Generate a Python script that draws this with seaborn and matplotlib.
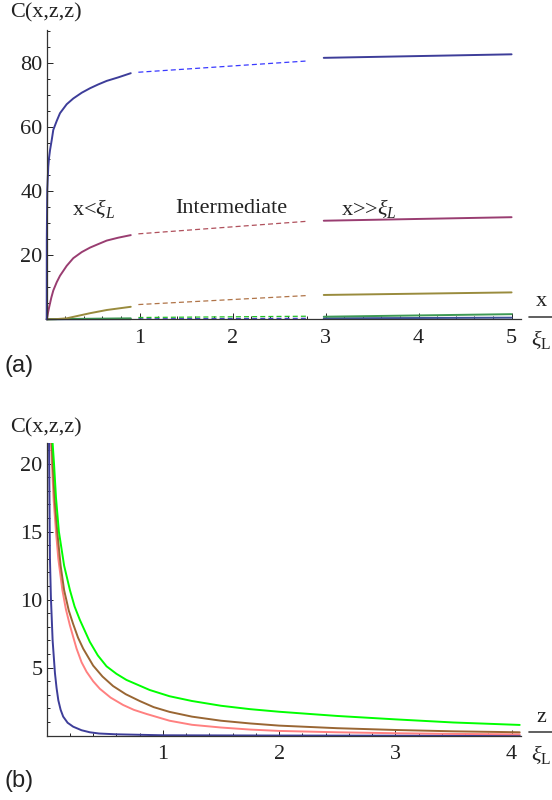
import numpy as np
import pandas as pd
import seaborn as sns
import matplotlib.pyplot as plt
from matplotlib.lines import Line2D
from matplotlib.ticker import MultipleLocator

# ---- panel (a): C(x,z,z) against x/xi_L in three regimes ----
# x < xi_L (solid)
xs_blue = [0, 0.001, 0.006, 0.017, 0.025, 0.036, 0.054, 0.071, 0.108, 0.143, 0.215, 0.286,
           0.377, 0.466, 0.555, 0.646, 0.77, 0.904]
cs_blue = [0, 25, 40.4, 47.7, 50.4, 52.9, 56.0, 59.2, 62.0, 64.4, 67.2, 69.0,
           70.8, 72.2, 73.4, 74.5, 75.6, 76.9]
xs_mag = [0, 0.006, 0.015, 0.028, 0.05, 0.071, 0.108, 0.143, 0.215, 0.286, 0.377, 0.466,
          0.555, 0.646, 0.77, 0.904]
cs_mag = [0, 0.6, 2.2, 4.0, 6.8, 9.0, 11.6, 13.6, 16.7, 19.1, 21.0, 22.4,
          23.5, 24.6, 25.5, 26.3]
xs_olive = [0, 0.1, 0.215, 0.466, 0.646, 0.904]
cs_olive = [0, 0.05, 0.3, 1.9, 2.9, 3.9]
xs_green = [0, 0.3, 0.904]
cs_green = [0, 0.12, 0.3]
xs_low = [0, 0.904]
cs_low = [0, 0.05]

# intermediate (dashed)
x_mid = [0.986, 2.79]
cm_blue = [77.2, 80.7]
cm_mag = [26.7, 30.6]
cm_olive = [4.6, 7.4]
cm_green = [0.55, 0.95]
cm_low = [0.15, 0.3]

# x >> xi_L (solid)
x_large = [2.98, 5.0]
cl_blue = [81.7, 82.8]
cl_mag = [30.8, 31.9]
cl_olive = [7.6, 8.4]
cl_green = [0.8, 1.6]
cl_low = [0.3, 0.5]

# ---- panel (b): C(x,z,z) against z/xi_L ----
zb_blue = [0.012, 0.02, 0.028, 0.036, 0.051, 0.071, 0.085, 0.1, 0.12, 0.142, 0.18, 0.228,
           0.3, 0.371, 0.45, 0.6, 1.0, 2.0, 3.0, 4.07]
cb_blue = [30, 21.5, 13.0, 10.2, 7.0, 4.6, 3.5, 2.6, 1.9, 1.4, 0.95, 0.66,
           0.4, 0.25, 0.16, 0.1, 0.03, 0.01, 0.0, 0.0]
zb_pink = [0.03, 0.037, 0.045, 0.06, 0.08, 0.1, 0.135, 0.165, 0.2, 0.257, 0.3, 0.343, 0.4,
           0.457, 0.55, 0.657, 0.75, 0.858, 1.057, 1.25, 1.5, 1.75, 2.0, 2.5, 3.0, 3.5, 4.07]
cb_pink = [25, 21.5, 20, 17.3, 15, 13, 10.7, 9.3, 8.1, 6.4, 5.4, 4.7, 4.0,
           3.45, 2.8, 2.26, 1.9, 1.6, 1.1, 0.8, 0.6, 0.45, 0.35, 0.25, 0.18, 0.13, 0.1]
zb_brown = [0.035, 0.043, 0.051, 0.07, 0.091, 0.12, 0.15, 0.19, 0.228, 0.27, 0.314, 0.4,
            0.48, 0.571, 0.68, 0.8, 0.92, 1.057, 1.25, 1.5, 1.75, 2.0, 2.5, 3.0, 3.5, 4.07]
cb_brown = [25, 21.5, 20, 17.2, 15, 12.5, 10.7, 9.2, 8.2, 7.2, 6.4, 5.15,
            4.35, 3.65, 3.05, 2.55, 2.1, 1.75, 1.4, 1.1, 0.9, 0.74, 0.55, 0.42, 0.32, 0.25]
zb_green = [0.042, 0.051, 0.063, 0.08, 0.105, 0.15, 0.2, 0.24, 0.286, 0.371, 0.44, 0.515,
            0.6, 0.686, 0.886, 1.057, 1.25, 1.5, 1.75, 2.0, 2.5, 3.0, 3.5, 4.07]
cb_green = [25, 21.5, 20, 17.5, 15, 12.5, 10.7, 9.5, 8.5, 6.9, 5.9, 5.1,
            4.55, 4.1, 3.36, 2.9, 2.55, 2.2, 1.95, 1.76, 1.45, 1.2, 0.97, 0.79]

sns.set_style("white")
plt.rcParams['font.family'] = ['Liberation Serif', 'DejaVu Serif']
plt.rcParams['mathtext.fontset'] = 'custom'
plt.rcParams['mathtext.rm'] = 'Liberation Serif'
plt.rcParams['mathtext.it'] = 'Liberation Serif:italic'

fig = plt.figure(figsize=(5.52, 8), dpi=100)
ax1 = fig.add_axes([0.0846, 0.6009, 0.859, 0.3616])
ax2 = fig.add_axes([0.0846, 0.0804, 0.859, 0.3655])


def seg(ax, x, y, color, dashed=False, lw=1.4, clip=True):
    df = pd.DataFrame({'x': x, 'y': y})
    sns.lineplot(data=df, x='x', y='y', ax=ax, color=color, lw=(0.9 if dashed else lw),
                 ls=((0, (4, 2.5)) if dashed else '-'), sort=False, estimator=None,
                 clip_on=clip)


# Mathematica default palette
c_blue, c_mag, c_olive, c_green, c_low = '#3d3d99', '#993d71', '#998b3d', '#3d9954', '#3d5299'

seg(ax1, xs_low, cs_low, c_low, clip=False)
seg(ax1, xs_green, cs_green, c_green, clip=False)
seg(ax1, xs_olive, cs_olive, c_olive, clip=False)
seg(ax1, xs_mag, cs_mag, c_mag, clip=False)
seg(ax1, xs_blue, cs_blue, c_blue, clip=False)

seg(ax1, x_mid, cm_low, '#4646c8', dashed=True)
seg(ax1, x_mid, cm_green, '#22c022', dashed=True)
seg(ax1, x_mid, cm_olive, '#b07448', dashed=True)
seg(ax1, x_mid, cm_mag, '#b0505c', dashed=True)
seg(ax1, x_mid, cm_blue, '#3a3aff', dashed=True)

seg(ax1, x_large, cl_low, c_low)
seg(ax1, x_large, cl_green, c_green)
seg(ax1, x_large, cl_olive, c_olive)
seg(ax1, x_large, cl_mag, c_mag)
seg(ax1, x_large, cl_blue, c_blue)

seg(ax2, zb_blue, cb_blue, '#3d3d99')
seg(ax2, zb_pink, cb_pink, '#ff8080')
seg(ax2, zb_brown, cb_brown, '#996633')
seg(ax2, zb_green, cb_green, '#00ff00')

ax1.set_xlim(0, 5.1)
ax1.set_ylim(0, 90.4)
ax1.xaxis.set_major_locator(MultipleLocator(1))
ax1.xaxis.set_minor_locator(MultipleLocator(0.2))
ax1.yaxis.set_major_locator(MultipleLocator(20))
ax1.yaxis.set_minor_locator(MultipleLocator(5))

ax2.set_xlim(0, 4.08)
ax2.set_ylim(0, 21.5)
ax2.xaxis.set_major_locator(MultipleLocator(1))
ax2.xaxis.set_minor_locator(MultipleLocator(0.2))
ax2.yaxis.set_major_locator(MultipleLocator(5))
ax2.yaxis.set_minor_locator(MultipleLocator(1))

for ax in (ax1, ax2):
    ax.set_xlabel('')
    ax.set_ylabel('')
    ax.patch.set_alpha(0)
    for s in ('top', 'right'):
        ax.spines[s].set_visible(False)
    for s in ('left', 'bottom'):
        ax.spines[s].set_color('#333333')
        ax.spines[s].set_linewidth(0.9)
    ax.tick_params(which='both', direction='in', bottom=True, left=True, colors='#222222',
                   width=0.7, labelsize=16, labelcolor='#222222')
    ax.tick_params(which='major', length=4)
    ax.tick_params(which='minor', length=2.2)
    ax.tick_params(axis='y', pad=3)
    ax.tick_params(axis='x', pad=7)
    # hide the zero labels, as the original does
    ax.set_xticks([t for t in ax.get_xticks() if 0 < t <= ax.get_xlim()[1]])
    ax.set_yticks([t for t in ax.get_yticks() if 0 < t <= ax.get_ylim()[1]])

ink = '#222222'
ax1.text(0.27, 34.5, r'x<$\xi_L$', fontsize=16, va='center', color=ink)
ax1.text(1.38, 34.5, 'Intermediate', fontsize=16, va='center', color=ink)
ax1.text(3.17, 34.5, r'x>>$\xi_L$', fontsize=16, va='center', color=ink)

fig.text(10 / 552, 1 - 13 / 800, 'C(x,z,z)', fontsize=16, va='center', color=ink)
fig.text(10 / 552, 1 - 428 / 800, 'C(x,z,z)', fontsize=16, va='center', color=ink)

# axis labels written as stacked fractions x / xi_L and z / xi_L
for num, ytop, yline, ybot in (('x', 301, 317, 339), ('z', 717, 732, 754)):
    fig.text(541 / 552, 1 - ytop / 800, num, fontsize=16, ha='center', va='center', color=ink)
    fig.text(541 / 552, 1 - ybot / 800, r'$\xi_\mathrm{L}$', fontsize=16, ha='center',
             va='center', color=ink)
    fig.add_artist(Line2D([529 / 552, 552 / 552], [1 - yline / 800] * 2, color='#444444',
                          lw=1.2, transform=fig.transFigure))

fig.text(4 / 552, 1 - 366 / 800, '(a)', fontsize=17, va='center', family='Liberation Sans',
         color=ink)
fig.text(4 / 552, 1 - 781 / 800, '(b)', fontsize=17, va='center', family='Liberation Sans',
         color=ink)

fig.savefig('out.png', dpi=100)
